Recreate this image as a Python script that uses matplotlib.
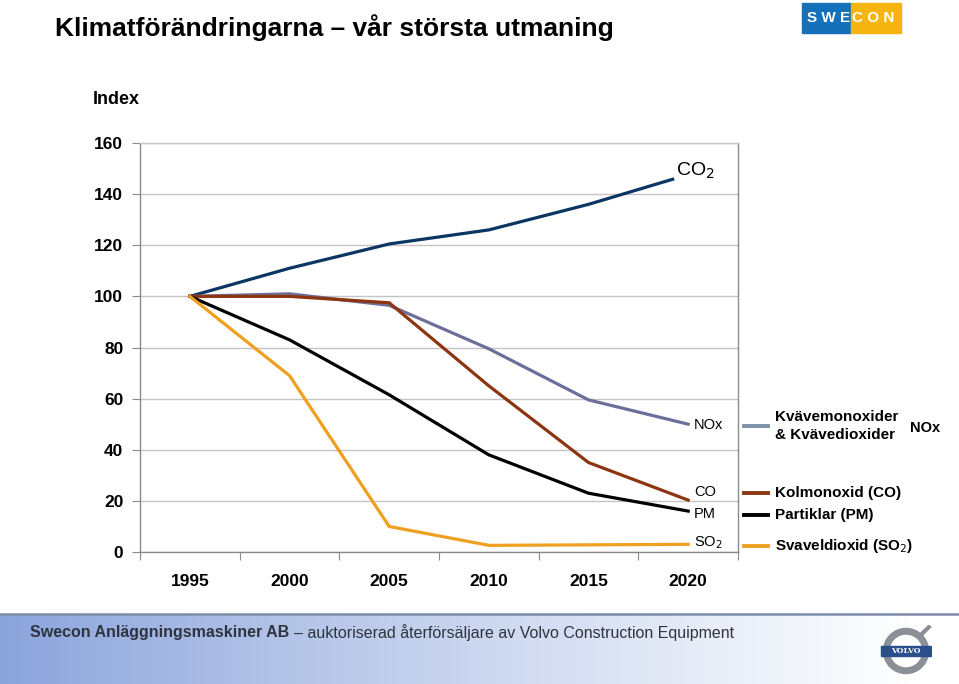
import numpy as np
import matplotlib.pyplot as plt
from matplotlib.patches import Rectangle, Circle

# Data (index, 1995 = 100)
years = [1995, 2000, 2005, 2010, 2015, 2020]
co2_years = [1995, 2000, 2005, 2010, 2015, 2019.3]
co2 = [100, 111, 120.5, 126, 136, 146]
nox = [100, 101, 96.5, 79.5, 59.5, 50]
co = [100, 100, 97.5, 65, 35, 20.3]
pm = [100, 83, 61.5, 38, 23, 16]
so2 = [100, 69, 10, 2.6, 2.8, 3]

c_co2 = '#0b3563'
c_nox = '#6d6f9b'
c_nox_leg = '#7c93aa'
c_co = '#8c3510'
c_pm = '#000000'
c_so2 = '#f0a020'

plt.rcParams['font.family'] = ['Liberation Sans', 'DejaVu Sans']

W, H = 959, 684
fig = plt.figure(figsize=(W / 100, H / 100), dpi=100)

# footer band
fax = fig.add_axes([0, 0, 1, 69 / H])
grad = np.linspace(0, 1, 256)
c0 = np.array([0.54, 0.64, 0.86])
c1 = np.array([1.0, 1.0, 1.0])
t = np.clip(grad / 0.95, 0, 1) ** 0.9
img = (c0[None, :] * (1 - t[:, None]) + c1[None, :] * t[:, None])[None, :, :]
fax.imshow(img, aspect='auto', extent=[0, 1, 0, 1])
fax.set_xlim(0, 1)
fax.set_ylim(0, 1)
fax.axis('off')
fig.add_artist(plt.Line2D([0, 1], [70 / H, 70 / H], color='#7d8ca6', lw=1.8))

ax = fig.add_axes([140 / W, (H - 552) / H, 598 / W, 409 / H])
ax.plot(co2_years, co2, color=c_co2, lw=2.3, solid_capstyle='butt')
ax.plot(years, nox, color=c_nox, lw=2.3)
ax.plot(years, co, color=c_co, lw=2.3)
ax.plot(years, pm, color=c_pm, lw=2.3)
ax.plot(years, so2, color=c_so2, lw=2.3)

ax.set_xlim(1992.5, 2022.5)
ax.set_ylim(0, 160)
ax.set_yticks(np.arange(0, 161, 20))
ax.yaxis.grid(True, color='#c4c4c4', lw=1)
ax.set_axisbelow(True)
for s in ax.spines.values():
    s.set_color('#8a8a8a')
    s.set_linewidth(1)
ax.spines['top'].set_color('#c4c4c4')
ax.tick_params(axis='y', direction='out', length=6, color='#8a8a8a', pad=6,
               labelsize=12.5)
for lb in ax.get_yticklabels():
    lb.set_fontweight('bold')
ax.set_xticks(np.arange(1992.5, 2023, 5))
ax.set_xticklabels([])
ax.set_xticks(years, minor=True)
ax.set_xticklabels([str(y) for y in years], minor=True, fontsize=12.5,
                   fontweight='bold')
ax.tick_params(axis='x', which='major', direction='out', length=6, color='#8a8a8a')
ax.tick_params(axis='x', which='minor', length=0, pad=16)

# end labels
ax.text(co2_years[-1] + 0.1, co2[-1] + 3, 'CO$_2$', fontsize=14, va='center', ha='left')
ax.text(2020.3, nox[-1] - 0.5, 'NOx', fontsize=10.5, va='center')
ax.text(2020.3, co[-1] + 3, 'CO', fontsize=10.5, va='center')
ax.text(2020.3, pm[-1] - 1, 'PM', fontsize=10.5, va='center')
ax.text(2020.3, so2[-1] + 0.5, 'SO$_2$', fontsize=10.5, va='center')

# title, y label
fig.text(55 / W, 1 - 28 / H, 'Klimatförändringarna – vår största utmaning',
         fontsize=19, fontweight='bold', va='center')
fig.text(93 / W, 1 - 100 / H, 'Index', fontsize=13, fontweight='bold', va='center')

# legend on the right
legend_items = [
    (426, c_nox_leg, 'Kvävemonoxider\n& Kvävedioxider'),
    (493, c_co, 'Kolmonoxid (CO)'),
    (515, c_pm, 'Partiklar (PM)'),
    (546, c_so2, 'Svaveldioxid (SO$_2$)'),
]
for yy, col, lab in legend_items:
    fig.add_artist(plt.Line2D([744 / W, 768 / W], [1 - yy / H, 1 - yy / H],
                              color=col, lw=2.8))
    fig.text(775 / W, 1 - yy / H, lab, fontsize=11, fontweight='bold',
             va='center', linespacing=1.3)
fig.text(910 / W, 1 - 428 / H, 'NOx', fontsize=10.5, fontweight='bold', va='center')

# footer text
fig.text(30 / W, 1 - 633 / H, 'Swecon Anläggningsmaskiner AB', fontsize=11.5,
         fontweight='bold', color='#2e3440', va='center')
fig.text(294 / W, 1 - 633 / H, '– auktoriserad återförsäljare av Volvo Construction Equipment',
         fontsize=11.5, color='#2e3440', va='center')

# Swecon logo
fig.add_artist(Rectangle((802 / W, 1 - 33 / H), 49 / W, 30 / H, color='#1470b8',
                         transform=fig.transFigure))
fig.add_artist(Rectangle((851 / W, 1 - 33 / H), 50 / W, 30 / H, color='#f6b40e',
                         transform=fig.transFigure))
fig.text(829 / W, 1 - 18 / H, 'S W E', fontsize=11, fontweight='bold',
         color='white', ha='center', va='center')
fig.text(873 / W, 1 - 18 / H, 'C O N', fontsize=11, fontweight='bold',
         color='white', ha='center', va='center')

# Volvo logo
lax = fig.add_axes([880 / W, 1 - 677 / H, 52 / W, 52 / H])
lax.set_xlim(-1, 1)
lax.set_ylim(-1, 1)
lax.set_aspect('equal')
lax.axis('off')
lax.add_patch(Circle((0, 0), 0.76, fill=False, ec='#8a9096', lw=5))
lax.plot([0.5, 0.88], [0.55, 0.92], color='#8a9096', lw=3)
lax.add_patch(Rectangle((-0.95, -0.2), 1.9, 0.4, color='#2b4f8c'))
lax.text(0, 0, 'VOLVO', color='white', fontsize=5.5, fontweight='bold',
         ha='center', va='center', family='DejaVu Serif')

fig.savefig('out.png', dpi=100)
